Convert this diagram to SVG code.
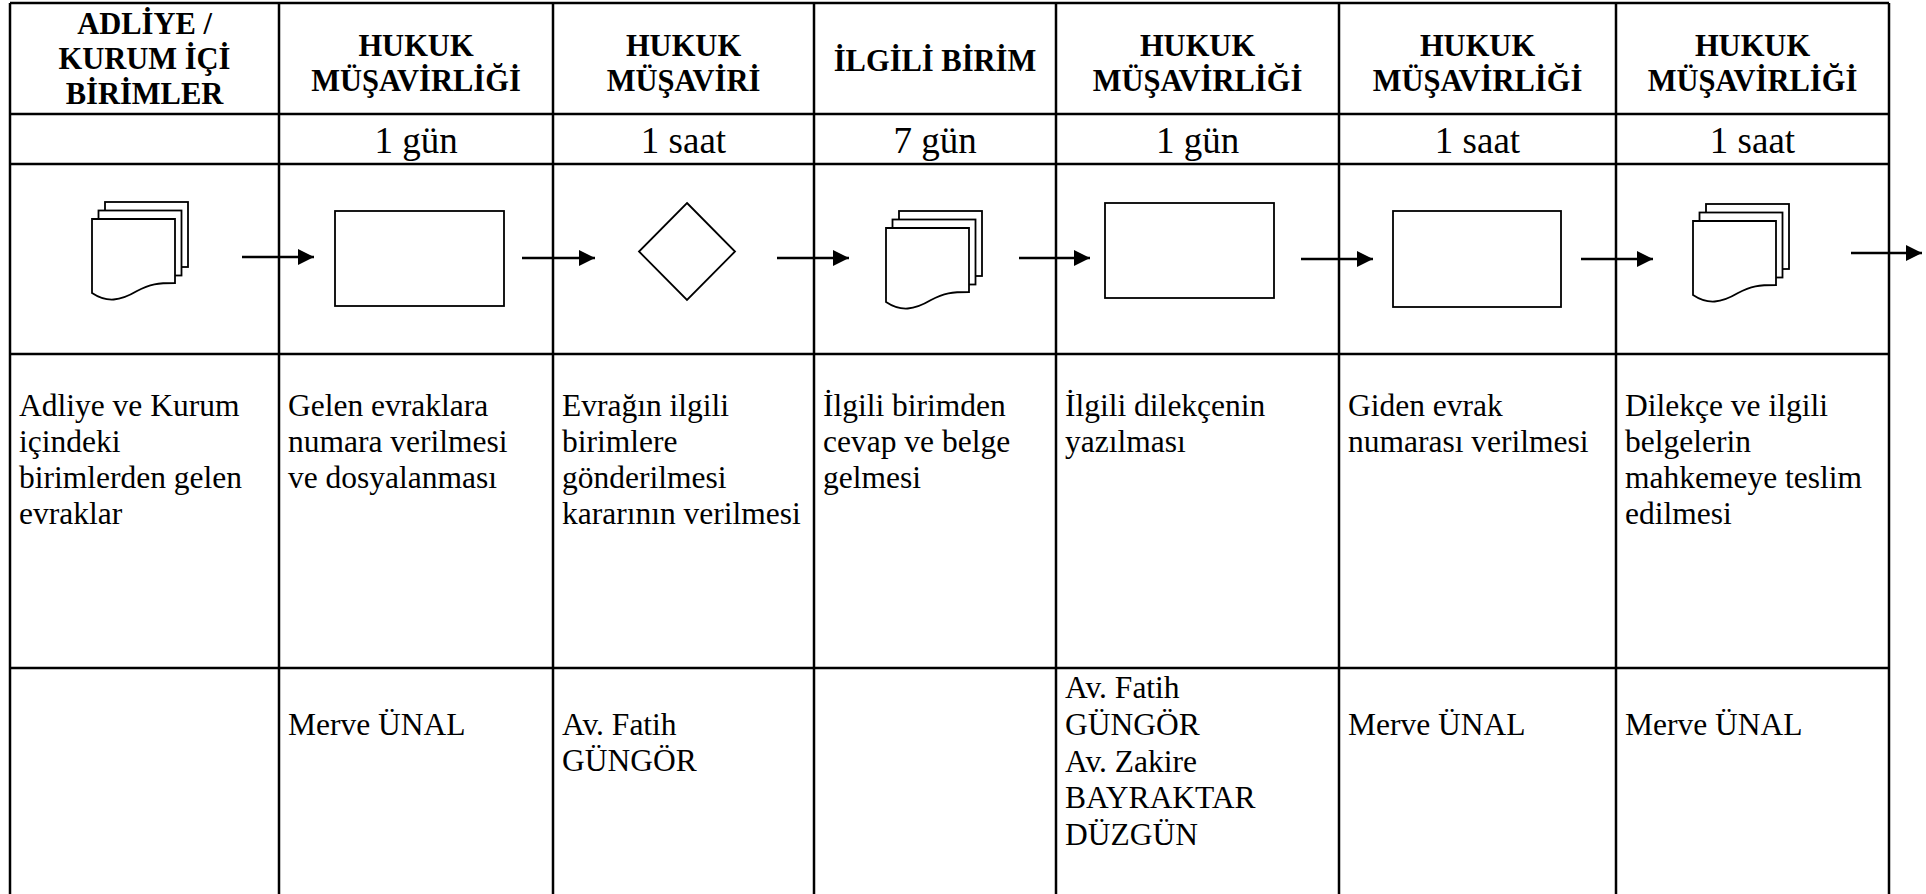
<svg xmlns="http://www.w3.org/2000/svg" width="1926" height="894" viewBox="0 0 1926 894">
  <style>
    .grid line { stroke: #000; stroke-width: 2.5; }
    .shape { fill: #fff; stroke: #000; stroke-width: 1.8; }
    .conn { stroke: #000; stroke-width: 2.6; fill: none; }
    .head { font-family: "Liberation Serif", "Times New Roman", serif; font-weight: bold; font-size: 30.5px; text-anchor: middle; fill: #000; }
    .dur { font-family: "Liberation Serif", "Times New Roman", serif; font-size: 37px; text-anchor: middle; fill: #000; }
    .body { font-family: "Liberation Serif", "Times New Roman", serif; font-size: 31.5px; fill: #000; }
  </style>
  <defs>
    <marker id="arrowhead" viewBox="0 0 16 16" refX="16" refY="8" markerWidth="16" markerHeight="16" markerUnits="userSpaceOnUse" orient="auto">
      <polygon points="0,0 16,8 0,16" fill="#000"/>
    </marker>
    <!-- stacked multi-document symbol, front sheet top-left at 0,0 -->
    <g id="multidoc">
      <rect class="shape" x="13" y="-17" width="83" height="65"/>
      <rect class="shape" x="6.5" y="-8.5" width="83" height="65"/>
      <path class="shape" d="M0,0 H83 V64 C66,64 58,65 45,72 C28,82 15,84 0,74 Z"/>
    </g>
  </defs>

  <rect width="1926" height="894" fill="#fff"/>

  <!-- table grid -->
  <g id="grid" class="grid">
    <line x1="10" y1="3" x2="1889" y2="3"/>
    <line x1="10" y1="114" x2="1889" y2="114"/>
    <line x1="10" y1="164" x2="1889" y2="164"/>
    <line x1="10" y1="354" x2="1889" y2="354"/>
    <line x1="10" y1="668" x2="1889" y2="668"/>
    <line x1="10" y1="3" x2="10" y2="894"/>
    <line x1="279" y1="3" x2="279" y2="894"/>
    <line x1="553" y1="3" x2="553" y2="894"/>
    <line x1="814" y1="3" x2="814" y2="894"/>
    <line x1="1056" y1="3" x2="1056" y2="894"/>
    <line x1="1339" y1="3" x2="1339" y2="894"/>
    <line x1="1616" y1="3" x2="1616" y2="894"/>
    <line x1="1889" y1="3" x2="1889" y2="894"/>
  </g>

  <!-- column 1 -->
  <g id="col1">
    <text class="head" x="144.5" y="34">ADLİYE /</text>
    <text class="head" x="144.5" y="69">KURUM İÇİ</text>
    <text class="head" x="144.5" y="104">BİRİMLER</text>
    <use href="#multidoc" x="92" y="219"/>
    <text class="body" x="19" y="416">Adliye ve Kurum</text>
    <text class="body" x="19" y="452">içindeki</text>
    <text class="body" x="19" y="488">birimlerden gelen</text>
    <text class="body" x="19" y="524">evraklar</text>
  </g>

  <!-- column 2 -->
  <g id="col2">
    <text class="head" x="416" y="56">HUKUK</text>
    <text class="head" x="416" y="91">MÜŞAVİRLİĞİ</text>
    <text class="dur" x="416" y="153">1 gün</text>
    <rect class="shape" x="335" y="211" width="169" height="95"/>
    <text class="body" x="288" y="416">Gelen evraklara</text>
    <text class="body" x="288" y="452">numara verilmesi</text>
    <text class="body" x="288" y="488">ve dosyalanması</text>
    <text class="body" x="288" y="735">Merve ÜNAL</text>
  </g>

  <!-- column 3 -->
  <g id="col3">
    <text class="head" x="683.5" y="56">HUKUK</text>
    <text class="head" x="683.5" y="91">MÜŞAVİRİ</text>
    <text class="dur" x="683.5" y="153">1 saat</text>
    <polygon class="shape" points="687,203 735,251.5 687,300 639,251.5"/>
    <text class="body" x="562" y="416">Evrağın ilgili</text>
    <text class="body" x="562" y="452">birimlere</text>
    <text class="body" x="562" y="488">gönderilmesi</text>
    <text class="body" x="562" y="524">kararının verilmesi</text>
    <text class="body" x="562" y="735">Av. Fatih</text>
    <text class="body" x="562" y="771">GÜNGÖR</text>
  </g>

  <!-- column 4 -->
  <g id="col4">
    <text class="head" x="935" y="71">İLGİLİ BİRİM</text>
    <text class="dur" x="935" y="153">7 gün</text>
    <use href="#multidoc" x="886" y="228"/>
    <text class="body" x="823" y="416">İlgili birimden</text>
    <text class="body" x="823" y="452">cevap ve belge</text>
    <text class="body" x="823" y="488">gelmesi</text>
  </g>

  <!-- column 5 -->
  <g id="col5">
    <text class="head" x="1197.5" y="56">HUKUK</text>
    <text class="head" x="1197.5" y="91">MÜŞAVİRLİĞİ</text>
    <text class="dur" x="1197.5" y="153">1 gün</text>
    <rect class="shape" x="1105" y="203" width="169" height="95"/>
    <text class="body" x="1065" y="416">İlgili dilekçenin</text>
    <text class="body" x="1065" y="452">yazılması</text>
    <text class="body" x="1065" y="698">Av. Fatih</text>
    <text class="body" x="1065" y="735">GÜNGÖR</text>
    <text class="body" x="1065" y="772">Av. Zakire</text>
    <text class="body" x="1065" y="808">BAYRAKTAR</text>
    <text class="body" x="1065" y="845">DÜZGÜN</text>
  </g>

  <!-- column 6 -->
  <g id="col6">
    <text class="head" x="1477.5" y="56">HUKUK</text>
    <text class="head" x="1477.5" y="91">MÜŞAVİRLİĞİ</text>
    <text class="dur" x="1477.5" y="153">1 saat</text>
    <rect class="shape" x="1393" y="211" width="168" height="96"/>
    <text class="body" x="1348" y="416">Giden evrak</text>
    <text class="body" x="1348" y="452">numarası verilmesi</text>
    <text class="body" x="1348" y="735">Merve ÜNAL</text>
  </g>

  <!-- column 7 -->
  <g id="col7">
    <text class="head" x="1752.5" y="56">HUKUK</text>
    <text class="head" x="1752.5" y="91">MÜŞAVİRLİĞİ</text>
    <text class="dur" x="1752.5" y="153">1 saat</text>
    <use href="#multidoc" x="1693" y="221"/>
    <text class="body" x="1625" y="416">Dilekçe ve ilgili</text>
    <text class="body" x="1625" y="452">belgelerin</text>
    <text class="body" x="1625" y="488">mahkemeye teslim</text>
    <text class="body" x="1625" y="524">edilmesi</text>
    <text class="body" x="1625" y="735">Merve ÜNAL</text>
  </g>

  <!-- flow connectors -->
  <g id="connectors" class="conn">
    <line x1="242" y1="257" x2="314" y2="257" marker-end="url(#arrowhead)"/>
    <line x1="522" y1="258" x2="595" y2="258" marker-end="url(#arrowhead)"/>
    <line x1="777" y1="258" x2="849" y2="258" marker-end="url(#arrowhead)"/>
    <line x1="1019" y1="258" x2="1090" y2="258" marker-end="url(#arrowhead)"/>
    <line x1="1301" y1="259" x2="1373" y2="259" marker-end="url(#arrowhead)"/>
    <line x1="1581" y1="259" x2="1653" y2="259" marker-end="url(#arrowhead)"/>
    <line x1="1851" y1="253" x2="1922" y2="253" marker-end="url(#arrowhead)"/>
  </g>
</svg>
